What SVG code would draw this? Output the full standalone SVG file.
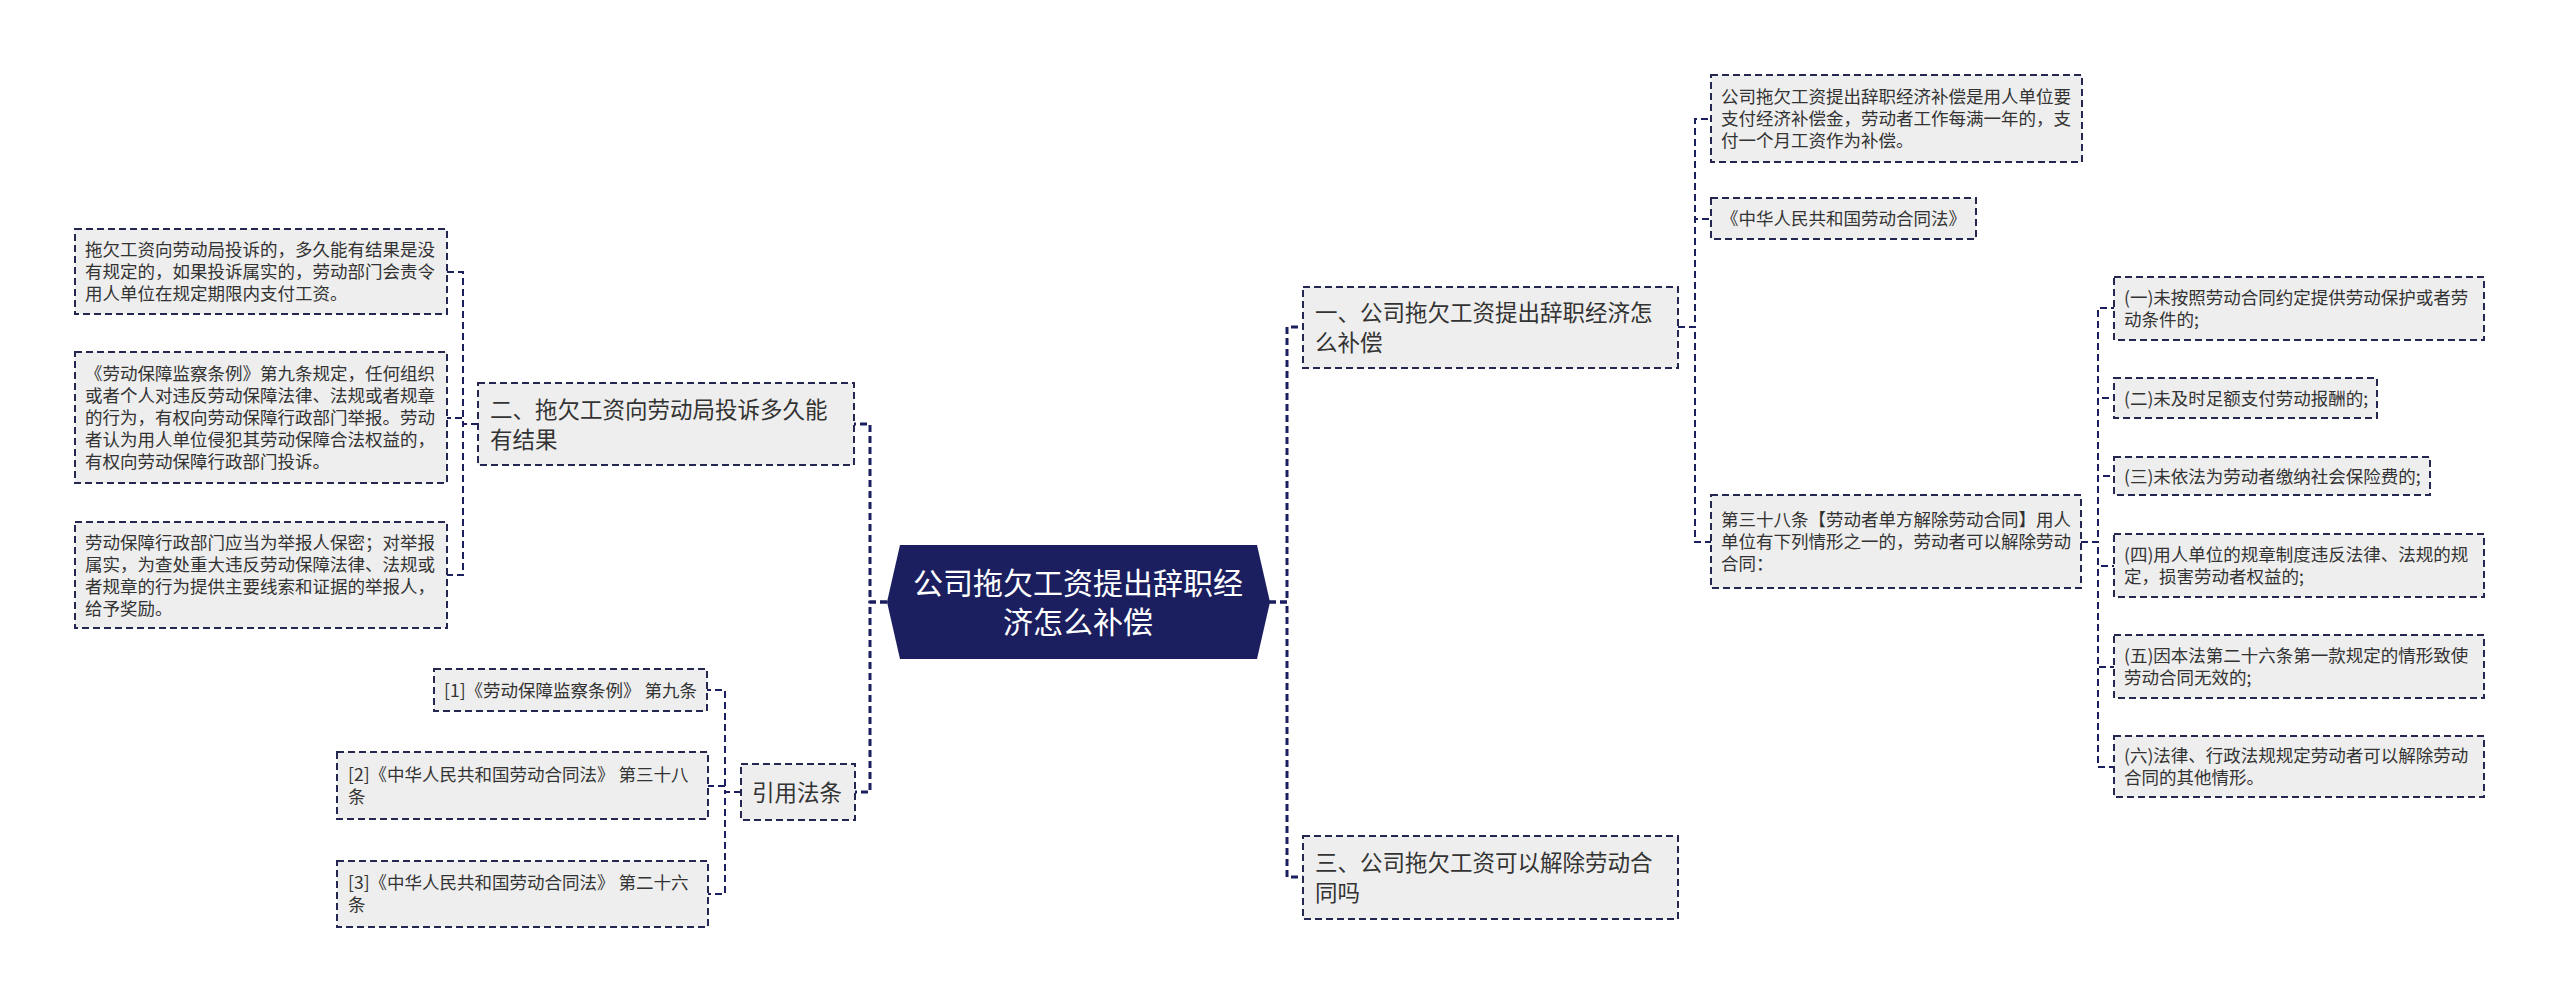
<svg xmlns="http://www.w3.org/2000/svg" width="2560" height="995" viewBox="0 0 2560 995">
<style>
.bg{fill:#ffffff}
.box{fill:#eeeeee;stroke:#24274f;stroke-width:2;stroke-dasharray:7,4}
.conn{fill:none;stroke:#1b1f5f;stroke-dasharray:7,4}
.main{stroke-width:3}
.sub{stroke-width:2}
.t1{font-family:"Noto Sans CJK SC","Microsoft YaHei",sans-serif;font-size:22.5px;fill:#333333}
.t2{font-family:"Noto Sans CJK SC","Microsoft YaHei",sans-serif;font-size:17.5px;fill:#333333}
.t0{font-family:"Noto Sans CJK SC","Microsoft YaHei",sans-serif;font-size:30px;fill:#ffffff;text-anchor:middle}
</style>
<rect class="bg" x="0" y="0" width="2560" height="995"/>
<g id="connectors">
  <path class="conn main" d="M887,602 H870 V424 H854"/>
  <path class="conn main" d="M887,602 H870 V792 H855"/>
  <path class="conn main" d="M1269,602 H1287 V327 H1303"/>
  <path class="conn main" d="M1269,602 H1287 V877 H1303"/>
  <path class="conn sub" d="M478,424 H463 V272 H447"/>
  <path class="conn sub" d="M478,424 H463 V418 H447"/>
  <path class="conn sub" d="M478,424 H463 V575 H447"/>
  <path class="conn sub" d="M741,792 H725 V690 H707"/>
  <path class="conn sub" d="M741,792 H725 V786 H708"/>
  <path class="conn sub" d="M741,792 H725 V894 H708"/>
  <path class="conn sub" d="M1678,327 H1695 V119 H1711"/>
  <path class="conn sub" d="M1678,327 H1695 V219 H1711"/>
  <path class="conn sub" d="M1678,327 H1695 V542 H1711"/>
  <path class="conn sub" d="M2081,542 H2098 V308 H2114"/>
  <path class="conn sub" d="M2081,542 H2098 V398 H2114"/>
  <path class="conn sub" d="M2081,542 H2098 V476 H2114"/>
  <path class="conn sub" d="M2081,542 H2098 V566 H2114"/>
  <path class="conn sub" d="M2081,542 H2098 V667 H2114"/>
  <path class="conn sub" d="M2081,542 H2098 V767 H2114"/>
</g>
<g id="root">
  <polygon points="900,545 1257,545 1270,602 1257,659 900,659 887,602" fill="#1b1f5f"/>
  <text class="t0"><tspan x="1078" y="594">公司拖欠工资提出辞职经</tspan><tspan x="1078" y="633">济怎么补偿</tspan></text>
</g>
<g id="n2">
  <rect class="box" x="478" y="383" width="376" height="82"/>
  <text class="t1"><tspan x="490" y="417.5">二、拖欠工资向劳动局投诉多久能</tspan><tspan x="490" y="447.5">有结果</tspan></text>
</g>
<g id="n2a">
  <rect class="box" x="75" y="229" width="372" height="85"/>
  <text class="t2"><tspan x="85" y="256">拖欠工资向劳动局投诉的，多久能有结果是没</tspan><tspan x="85" y="278">有规定的，如果投诉属实的，劳动部门会责令</tspan><tspan x="85" y="300">用人单位在规定期限内支付工资。</tspan></text>
</g>
<g id="n2b">
  <rect class="box" x="75" y="352" width="372" height="131"/>
  <text class="t2"><tspan x="85" y="380">《劳动保障监察条例》第九条规定，任何组织</tspan><tspan x="85" y="402">或者个人对违反劳动保障法律、法规或者规章</tspan><tspan x="85" y="424">的行为，有权向劳动保障行政部门举报。劳动</tspan><tspan x="85" y="446">者认为用人单位侵犯其劳动保障合法权益的，</tspan><tspan x="85" y="468">有权向劳动保障行政部门投诉。</tspan></text>
</g>
<g id="n2c">
  <rect class="box" x="75" y="522" width="372" height="106"/>
  <text class="t2"><tspan x="85" y="548.5">劳动保障行政部门应当为举报人保密；对举报</tspan><tspan x="85" y="570.5">属实，为查处重大违反劳动保障法律、法规或</tspan><tspan x="85" y="592.5">者规章的行为提供主要线索和证据的举报人，</tspan><tspan x="85" y="614.5">给予奖励。</tspan></text>
</g>
<g id="nref">
  <rect class="box" x="741" y="764" width="114" height="56"/>
  <text class="t1"><tspan x="752" y="800.5">引用法条</tspan></text>
</g>
<g id="nref1">
  <rect class="box" x="434" y="669" width="273" height="42"/>
  <text class="t2"><tspan x="444" y="696.5">[1]《劳动保障监察条例》 第九条</tspan></text>
</g>
<g id="nref2">
  <rect class="box" x="337" y="752" width="371" height="67"/>
  <text class="t2"><tspan x="348" y="781">[2]《中华人民共和国劳动合同法》 第三十八</tspan><tspan x="348" y="803">条</tspan></text>
</g>
<g id="nref3">
  <rect class="box" x="337" y="861" width="371" height="66"/>
  <text class="t2"><tspan x="348" y="889">[3]《中华人民共和国劳动合同法》 第二十六</tspan><tspan x="348" y="911">条</tspan></text>
</g>
<g id="n1">
  <rect class="box" x="1303" y="287" width="375" height="81"/>
  <text class="t1"><tspan x="1315" y="321">一、公司拖欠工资提出辞职经济怎</tspan><tspan x="1315" y="351">么补偿</tspan></text>
</g>
<g id="n1a">
  <rect class="box" x="1711" y="75" width="371" height="87"/>
  <text class="t2"><tspan x="1721" y="103">公司拖欠工资提出辞职经济补偿是用人单位要</tspan><tspan x="1721" y="125">支付经济补偿金，劳动者工作每满一年的，支</tspan><tspan x="1721" y="147">付一个月工资作为补偿。</tspan></text>
</g>
<g id="n1b">
  <rect class="box" x="1711" y="198" width="265" height="41"/>
  <text class="t2"><tspan x="1721" y="225">《中华人民共和国劳动合同法》</tspan></text>
</g>
<g id="n1c">
  <rect class="box" x="1711" y="495" width="370" height="93"/>
  <text class="t2"><tspan x="1721" y="526">第三十八条【劳动者单方解除劳动合同】用人</tspan><tspan x="1721" y="548">单位有下列情形之一的，劳动者可以解除劳动</tspan><tspan x="1721" y="570">合同：</tspan></text>
</g>
<g id="c1">
  <rect class="box" x="2114" y="277" width="370" height="63"/>
  <text class="t2"><tspan x="2124" y="304">(一)未按照劳动合同约定提供劳动保护或者劳</tspan><tspan x="2124" y="326">动条件的;</tspan></text>
</g>
<g id="c2">
  <rect class="box" x="2114" y="378" width="263" height="40"/>
  <text class="t2"><tspan x="2124" y="404.5">(二)未及时足额支付劳动报酬的;</tspan></text>
</g>
<g id="c3">
  <rect class="box" x="2114" y="457" width="316" height="38"/>
  <text class="t2"><tspan x="2124" y="482.5">(三)未依法为劳动者缴纳社会保险费的;</tspan></text>
</g>
<g id="c4">
  <rect class="box" x="2114" y="534" width="370" height="63"/>
  <text class="t2"><tspan x="2124" y="561">(四)用人单位的规章制度违反法律、法规的规</tspan><tspan x="2124" y="583">定，损害劳动者权益的;</tspan></text>
</g>
<g id="c5">
  <rect class="box" x="2114" y="635" width="370" height="63"/>
  <text class="t2"><tspan x="2124" y="662">(五)因本法第二十六条第一款规定的情形致使</tspan><tspan x="2124" y="684">劳动合同无效的;</tspan></text>
</g>
<g id="c6">
  <rect class="box" x="2114" y="736" width="370" height="61"/>
  <text class="t2"><tspan x="2124" y="762">(六)法律、行政法规规定劳动者可以解除劳动</tspan><tspan x="2124" y="784">合同的其他情形。</tspan></text>
</g>
<g id="n3">
  <rect class="box" x="1303" y="836" width="375" height="83"/>
  <text class="t1"><tspan x="1315" y="871">三、公司拖欠工资可以解除劳动合</tspan><tspan x="1315" y="901">同吗</tspan></text>
</g>
</svg>
